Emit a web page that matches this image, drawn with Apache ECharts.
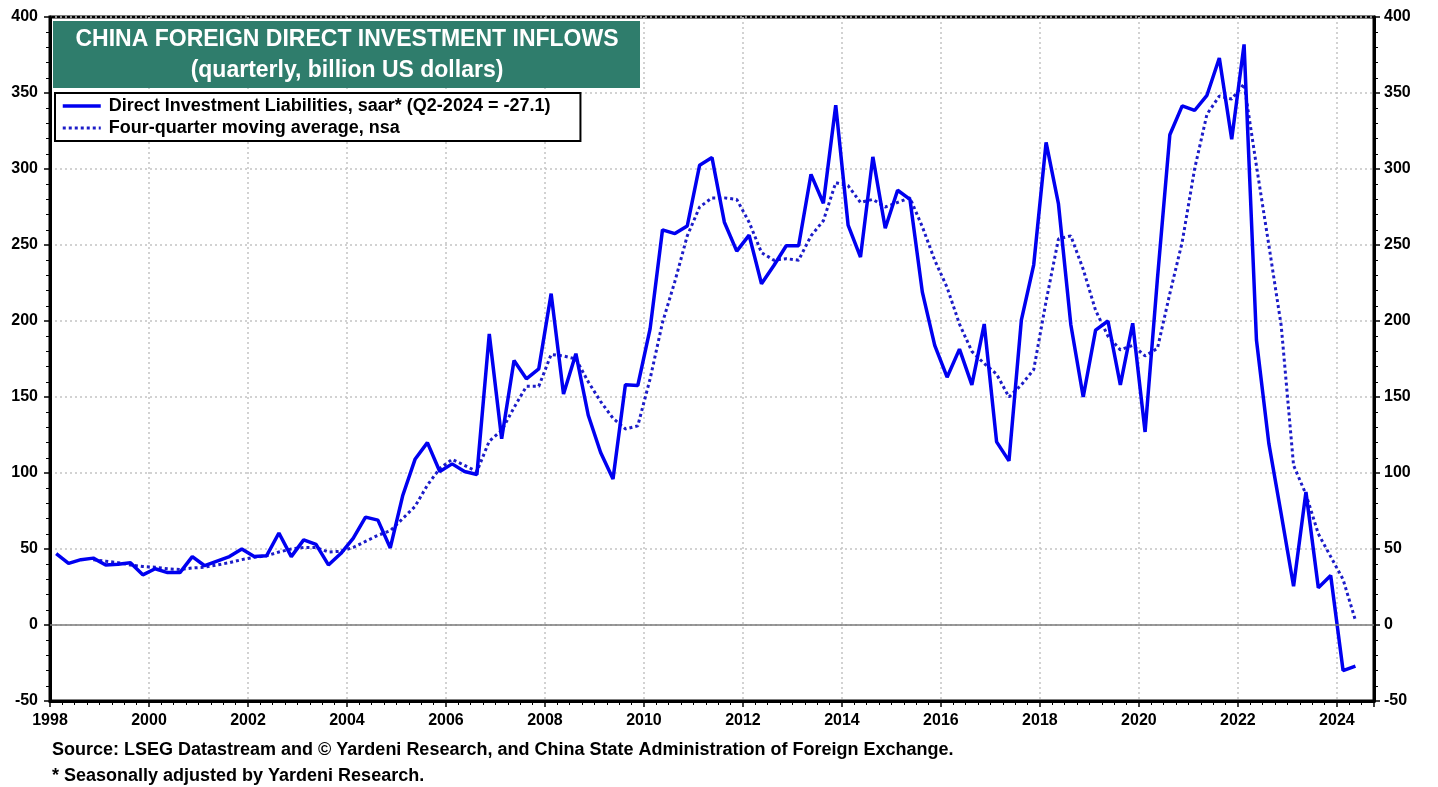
<!DOCTYPE html>
<html>
<head>
<meta charset="utf-8">
<title>China FDI inflows</title>
<script src="https://cdn.jsdelivr.net/npm/echarts@6/dist/echarts.min.js"></script>
<style>
  html, body { margin: 0; padding: 0; background: #fff; }
  #chart { width: 1438px; height: 787px; }
</style>
</head>
<body>
<div id="chart"></div>
<script>
// quarterly data, 1998 Q1 .. 2024 Q2 (billion US$)
const startYear = 1998

const liabilities = [
  47, 40.5, 43, 44,        // 1998
  39.5, 40, 41, 33,        // 1999
  37, 34.5, 34.5, 45,      // 2000
  39, 42, 45, 50,          // 2001
  45, 45.5, 60.5, 45,      // 2002
  56, 53, 39.5, 47,        // 2003
  57, 71, 69, 50.7,        // 2004
  85, 109, 120, 101,       // 2005
  106, 101, 99, 191.5,     // 2006
  122.5, 174, 162, 168.5,  // 2007
  218, 152, 178.5, 138,    // 2008
  113.5, 96, 158, 157.5,   // 2009
  195, 260, 257.5, 262.5,  // 2010
  302.5, 307.5, 265, 246,  // 2011
  256.5, 224.5, 236.5, 249.5, // 2012
  249.5, 296.5, 277.5, 342,   // 2013
  263, 242, 308, 261,      // 2014
  286, 280, 219, 184,      // 2015
  163, 181.5, 158, 198,    // 2016
  120.5, 108, 200.5, 237,  // 2017
  317.5, 277, 197.5, 150,  // 2018
  194, 200, 158, 198.5,    // 2019
  127, 228, 322.5, 341.5,  // 2020
  338.5, 348.5, 373, 319.5, // 2021
  382, 187.5, 119.5, 73,   // 2022
  25.5, 87.5, 24.5, 32.5,  // 2023
  -30, -27.1               // 2024
]

const movingAvg = [
  null, null, null, 43,
  42, 41, 39.5, 38.5,
  38, 37, 36.5, 37.5,
  38, 39.5, 41, 43,
  44.5, 45.5, 48, 50,
  51, 51, 48, 48.5,
  51, 55, 59, 62,
  70, 78, 92, 103,
  109, 105, 101, 121,
  128, 143, 157, 157,
  178, 177, 175, 160,
  147, 136, 129, 131,
  162, 199, 226, 256,
  275, 281, 281, 280,
  265, 245, 240, 241,
  240, 256, 266, 291,
  289, 278, 280, 275,
  278, 281, 262, 240,
  222, 198, 180, 172,
  165, 150, 158, 168,
  213, 254, 256, 234,
  207, 190, 181, 184,
  177, 182, 218, 252,
  300, 336, 348, 346,
  356, 302, 250, 197,
  105, 86, 60, 45,
  30, 3
]

const seriesNames = [
  'Direct Investment Liabilities, saar* (Q2-2024 = -27.1)',
  'Four-quarter moving average, nsa'
]

// each quarter is plotted at its middle, as a decimal year
const quarters = liabilities.map((v, i) => startYear + Math.floor(i / 4) + (i % 4) * 0.25 + 0.125)

const font = '"Liberation Sans", Arial, sans-serif'
const gridLine = { show: true, lineStyle: { color: '#c4c4c4', type: [2, 3], width: 1.5 } }
const labelStyle = { fontFamily: font, fontSize: 16, fontWeight: 'bold', color: '#000' }
const solidStyle = { color: '#0000f0', width: 3.5 }
const dottedStyle = { color: '#1c1cc8', width: 3, type: [3, 3] }

function yAxis(position, split) {
  return {
    type: 'value',
    position: position,
    min: -50,
    max: 400,
    interval: 50,
    axisLine: { show: true, onZero: false, lineStyle: { color: '#000', width: 3 } },
    axisTick: { show: true, length: 6, lineStyle: { color: '#000', width: 1.5 } },
    minorTick: { show: true, splitNumber: 5, length: 4, lineStyle: { color: '#000', width: 1 } },
    axisLabel: Object.assign({ margin: position === 'left' ? 12 : 10 }, labelStyle),
    splitLine: split ? gridLine : { show: false }
  }
}

const chart = echarts.init(document.getElementById('chart'))

chart.setOption({
  animation: false,
  backgroundColor: '#fff',
  grid: {
    left: 50, right: 64, top: 17, bottom: 86,
    show: true, borderColor: '#000', borderWidth: 3
  },
  xAxis: {
    type: 'value',
    min: 1998,
    max: 2024.75,
    interval: 2,
    axisLine: { show: true, onZero: false, lineStyle: { color: '#000', width: 3 } },
    axisTick: { show: true, length: 6, lineStyle: { color: '#000', width: 1.5 } },
    minorTick: { show: true, splitNumber: 8, length: 4, lineStyle: { color: '#000', width: 1 } },
    axisLabel: Object.assign({
      margin: 12,
      formatter: v => (Number.isInteger(v) && v % 2 === 0 ? String(v) : '')
    }, labelStyle),
    splitLine: gridLine
  },
  yAxis: [yAxis('left', true), yAxis('right', false)],
  legend: {
    orient: 'vertical',
    left: 55,
    top: 93,
    backgroundColor: '#fff',
    borderColor: '#000',
    borderWidth: 2,
    borderRadius: 0,
    padding: [4, 30, 4, 6],
    itemGap: 4,
    itemWidth: 38,
    itemHeight: 14,
    itemStyle: { opacity: 0 },
    textStyle: { fontFamily: font, fontSize: 18, fontWeight: 'bold', color: '#000', padding: [0, 0, 0, 3] },
    data: [
      { name: seriesNames[0], lineStyle: solidStyle },
      { name: seriesNames[1], lineStyle: dottedStyle }
    ]
  },
  series: [
    {
      name: seriesNames[1],
      type: 'line',
      data: quarters.map((q, i) => [q, movingAvg[i]]),
      symbol: 'none',
      connectNulls: false,
      color: dottedStyle.color,
      lineStyle: dottedStyle,
      z: 3
    },
    {
      name: seriesNames[0],
      type: 'line',
      data: quarters.map((q, i) => [q, liabilities[i]]),
      symbol: 'none',
      color: solidStyle.color,
      lineStyle: solidStyle,
      z: 4,
      markLine: {
        silent: true,
        symbol: 'none',
        label: { show: false },
        lineStyle: { color: '#7a7a7a', type: 'solid', width: 1.5 },
        data: [{ yAxis: 0 }]
      }
    }
  ],
  graphic: [
    { type: 'rect', left: 53, top: 21, shape: { width: 587, height: 67 }, style: { fill: '#2f7d6c' }, z: 10 },
    {
      type: 'text', x: 347, y: 40, z: 11,
      style: { text: 'CHINA FOREIGN DIRECT INVESTMENT INFLOWS', fill: '#fff', font: 'bold 23px ' + font, align: 'center', verticalAlign: 'middle' }
    },
    {
      type: 'text', x: 347, y: 71, z: 11,
      style: { text: '(quarterly, billion US dollars)', fill: '#fff', font: 'bold 23px ' + font, align: 'center', verticalAlign: 'middle' }
    },
    {
      type: 'text', x: 52, y: 750, z: 11,
      style: { text: 'Source: LSEG Datastream and \u00a9 Yardeni Research, and China State Administration of Foreign Exchange.', fill: '#000', font: 'bold 18px ' + font, verticalAlign: 'middle' }
    },
    {
      type: 'text', x: 52, y: 776, z: 11,
      style: { text: '* Seasonally adjusted by Yardeni Research.', fill: '#000', font: 'bold 18px ' + font, verticalAlign: 'middle' }
    }
  ]
})

window.addEventListener('resize', () => chart.resize())
</script>
</body>
</html>
